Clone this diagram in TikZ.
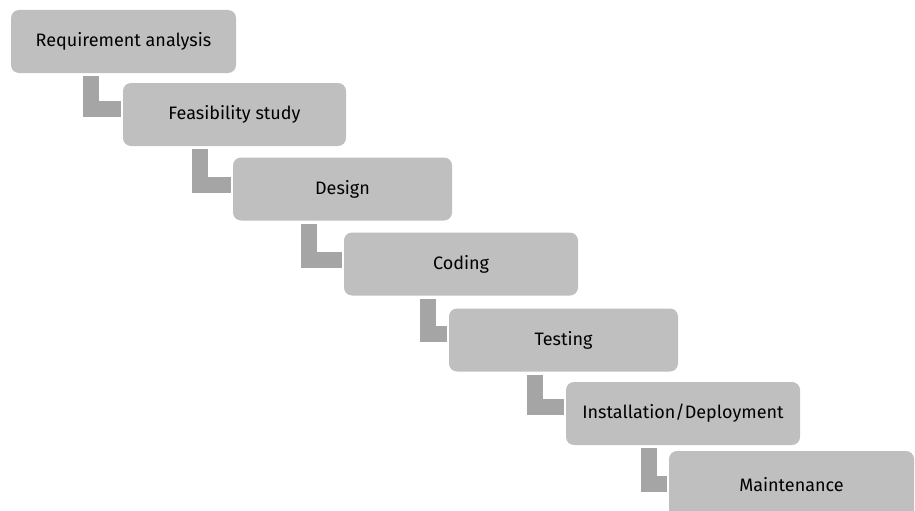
\documentclass[tikz,border=0pt]{standalone}
\usepackage{fontspec}
\setmainfont{Fira Sans}
\definecolor{boxgray}{HTML}{BFBFBF}
\definecolor{linkgray}{HTML}{A5A5A5}
\begin{document}
\begin{tikzpicture}[x=1pt, y=-1pt, font=\fontsize{18}{21}\selectfont, line join=miter, line cap=butt,
	stage/.style={rounded corners=8pt, fill=boxgray, minimum height=63pt, inner sep=0pt},
	link/.style={linkgray, line width=16pt}]
	\useasboundingbox (0,0) rectangle (915,511);
	% stages: name/x/y/width/text
	\foreach \n/\x/\y/\w/\t in {ra/123.5/41.5/225/Requirement analysis, fs/234.5/114.5/223/Feasibility study,
		de/342.5/189/219/Design, co/461/264/234/Coding, te/563.5/340/229/Testing,
		in/683/413.5/234/{Installation/Deployment}}
		\node[stage, minimum width=\w pt] (\n) at (\x,\y) {\t};
	\node[stage, minimum width=245pt, minimum height=68pt] (ma) at (791.5,485) {Maintenance};
	% L-shaped links
	\foreach \a/\b/\dx/\dy in {ra/fs/80/26.5, fs/de/77.5/27.5, de/co/76/27.5, co/te/84/26, te/in/86.5/25.5, in/ma/83/33}
		\draw[link] ([xshift=\dx pt, yshift=-3pt]\a.south west) |- ([xshift=-2pt, yshift=-\dy pt]\b.north west);
\end{tikzpicture}
\end{document}
